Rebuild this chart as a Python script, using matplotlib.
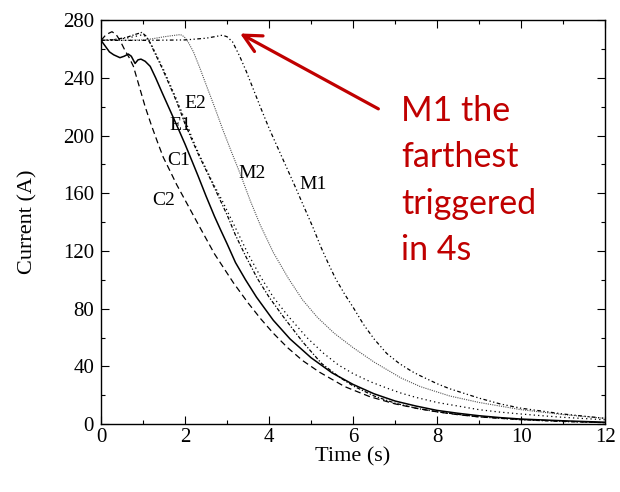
import matplotlib.pyplot as plt
from matplotlib.ticker import MultipleLocator

plt.rcParams['font.family'] = ['Liberation Serif', 'DejaVu Serif']

# values (time in s, current in A)
t_C1 = [0, 0.1, 0.2, 0.3, 0.45, 0.55, 0.65, 0.72, 0.81, 0.88, 0.95, 1.05, 1.17, 1.3, 1.45,
        1.65, 1.85, 2.0, 2.17, 2.31, 2.5, 2.7, 2.84, 3.0, 3.2, 3.44, 3.7, 4.1, 4.5, 5.0,
        5.5, 6.0, 6.5, 7.0, 7.5, 8.0, 8.5, 9.0, 9.5, 10, 11, 12]
i_C1 = [266, 262, 258, 256, 254, 255, 256.5, 255, 250, 252.5, 253, 251.5, 248, 240, 230,
        217, 204, 194, 182, 172, 158, 144, 135, 125, 112, 100, 88, 72, 59, 46,
        35.5, 27.5, 21, 16, 12.5, 9.5, 7.5, 5.8, 4.5, 3.5, 2.3, 1.3]

t_C2 = [0, 0.12, 0.26, 0.36, 0.45, 0.57, 0.67, 0.77, 0.85, 0.93, 1.05, 1.2, 1.35, 1.48,
        1.65, 1.8, 2.08, 2.36, 2.7, 3.15, 3.5, 3.8, 4.1, 4.44, 4.8, 5.2, 5.8, 6.4, 7.0,
        7.5, 8.0, 8.5, 9.0, 10, 11, 12]
i_C2 = [266, 270, 272, 270, 266, 259, 254, 248, 240, 232, 220, 207, 195, 185,
        175, 166, 151, 136, 118, 98, 84, 73, 63, 53, 44, 36, 26, 19, 14,
        11, 8.5, 6.5, 5, 3.2, 2, 1]

t_E1 = [0, 0.3, 0.6, 0.8, 0.97, 1.07, 1.17, 1.3, 1.45, 1.6, 1.72, 1.86, 2.0, 2.15, 2.3,
        2.45, 2.6, 2.84, 3.0, 3.2, 3.45, 3.72, 4.0, 4.35, 4.8, 5.25, 5.7, 6.0, 6.5, 7.0,
        7.5, 8.0, 9.0, 10, 11, 12]
i_E1 = [266, 266.5, 268, 270, 271.5, 269, 264, 256, 247, 237, 229, 219, 208, 198, 188,
        179, 170, 155, 145, 131, 116, 101, 88, 74, 57, 42, 32, 26.5, 19.5, 14.5,
        11, 8.5, 5, 3, 1.8, 1]

t_E2 = [0, 0.3, 0.6, 0.85, 1.0, 1.1, 1.2, 1.35, 1.5, 1.65, 1.8, 2.05, 2.2, 2.35, 2.5,
        2.65, 2.9, 3.05, 3.25, 3.5, 3.8, 4.1, 4.45, 4.9, 5.3, 5.65, 6.0, 6.4, 6.8, 7.14,
        7.5, 8.0, 8.5, 9.0, 9.5, 10, 10.5, 11, 12]
i_E2 = [266, 266.5, 267.5, 269, 270, 267.5, 263, 254, 245, 235, 225, 207, 196, 186, 177,
        168, 154, 145, 133, 118, 102, 88, 75, 60, 49, 41, 35, 29.5, 25, 21.5,
        18.5, 15, 12.5, 10, 8.3, 7, 5.8, 4.7, 3]

t_M2 = [0, 0.5, 1.0, 1.2, 1.5, 1.75, 1.89, 1.98, 2.07, 2.2, 2.35, 2.53, 2.7, 2.9, 3.1,
        3.32, 3.55, 3.79, 4.1, 4.46, 4.8, 5.15, 5.55, 6.0, 6.5, 7.14, 7.6, 8.3, 9.0, 9.5,
        10, 10.5, 11, 12]
i_M2 = [266, 266, 266.3, 267, 268.5, 269.5, 270, 268.5, 265, 258, 247, 233, 220, 204, 189,
        173, 155, 138, 119, 101, 86, 74, 63, 53, 43, 32, 26, 19.5, 15, 12.5,
        10, 8.3, 6.6, 4]

t_M1 = [0, 1, 2, 2.5, 2.75, 2.89, 3.0, 3.13, 3.3, 3.45, 3.6, 3.79, 4.0, 4.2, 4.4, 4.6,
        4.87, 5.05, 5.23, 5.4, 5.58, 5.8, 6.0, 6.25, 6.5, 6.8, 7.1, 7.4, 7.6, 8.0, 8.3,
        9.0, 9.5, 10, 10.5, 11, 12]
i_M1 = [266, 266, 266.3, 267.5, 268.8, 269.6, 268.5, 265, 255, 245, 234, 220, 205, 192, 179, 166,
        148, 136, 123, 112, 101, 90, 81, 69, 59, 49, 42, 36.5, 33.5, 28, 24.5,
        18, 14, 11, 9, 7, 4]

labels = ['C1', 'C2', 'E1', 'E2', 'M1', 'M2']
label_x = [1.84, 1.48, 1.89, 2.24, 5.04, 3.6]
label_y = [183, 155, 207, 222, 166, 174]

fig = plt.figure(figsize=(6.2, 4.92), dpi=100)
ax = fig.add_axes([0.163, 0.138, 0.813, 0.821])

ax.plot(t_C1, i_C1, color='black', lw=1.1, ls='-')
ax.plot(t_C2, i_C2, color='black', lw=0.9, ls=(0, (5, 3)))
ax.plot(t_E1, i_E1, color='black', lw=0.9, ls=(0, (3, 1.5, 1, 1.5)))
ax.plot(t_E2, i_E2, color='black', lw=0.9, ls=(0, (1, 2.5)))
ax.plot(t_M2, i_M2, color='#555555', lw=0.8, ls=(0, (1, 1)))
ax.plot(t_M1, i_M1, color='black', lw=0.9, ls=(0, (3, 2, 1, 2, 1, 2)))

for lab, x, y in zip(labels, label_x, label_y):
    ax.text(x, y, lab, fontsize=14, ha='center', va='center')

ax.set_xlim(0, 12)
ax.set_ylim(0, 280)
ax.xaxis.set_major_locator(MultipleLocator(2))
ax.xaxis.set_minor_locator(MultipleLocator(1))
ax.yaxis.set_major_locator(MultipleLocator(40))
ax.yaxis.set_minor_locator(MultipleLocator(20))
ax.tick_params(which='both', direction='in', top=True, right=True, labelsize=15, width=0.8)
ax.tick_params(which='major', length=6)
ax.tick_params(which='minor', length=3)
ax.tick_params(axis='x', pad=3)
ax.tick_params(axis='y', pad=5)
for s in ax.spines.values():
    s.set_linewidth(1.0)

ax.set_xlabel('Time (s)', fontsize=16, labelpad=0)
ax.set_ylabel('Current (A)', fontsize=16, labelpad=18)

red = '#C00000'
ax.annotate('', xy=(3.25, 271.7), xytext=(6.66, 217.6),
            arrowprops=dict(arrowstyle='->', color=red, lw=2.3, mutation_scale=32),
            annotation_clip=False)
ax.text(7.15, 228, 'M1 the\nfarthest\ntriggered\nin 4s', color=red, fontsize=24.5,
        family=['Lato', 'DejaVu Sans'], ha='left', va='top', linespacing=1.55)

fig.savefig('out.png', dpi=100)
